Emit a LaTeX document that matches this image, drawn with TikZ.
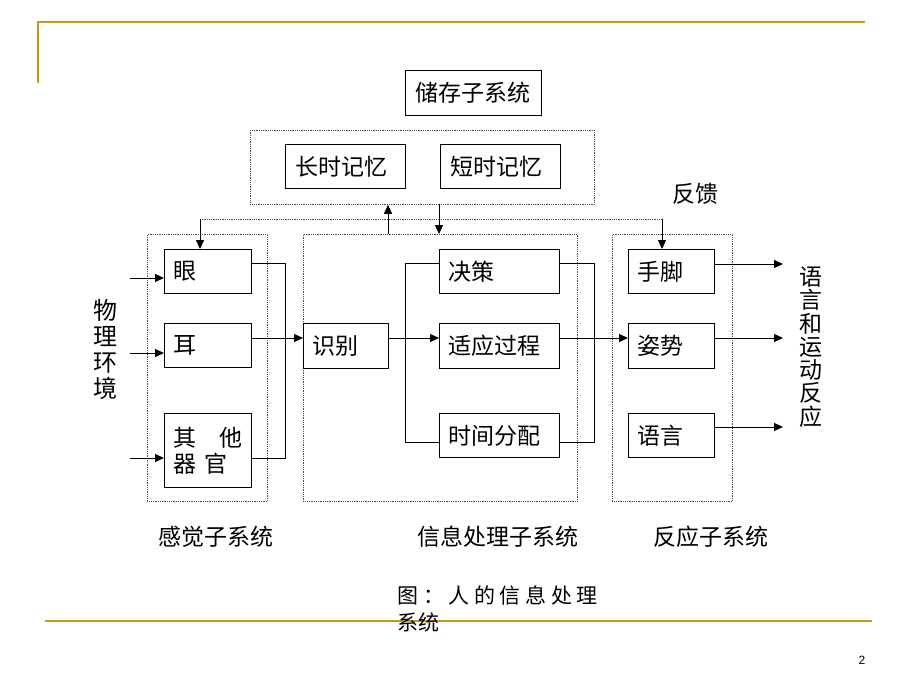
\documentclass[tikz,border=0pt]{standalone}
\usepackage{fontspec}
\setmainfont{Liberation Sans}
\newfontfamily\cjk{Noto Sans CJK SC}
\newfontfamily\cjksp[LetterSpace=22]{Noto Sans CJK SC}
\usetikzlibrary{arrows.meta}
\definecolor{gold}{RGB}{198,152,22}
\begin{document}
\begin{tikzpicture}[x=1pt,y=-1pt,
  font=\cjk\fontsize{23}{26}\selectfont,
  line width=0.9pt,
  arr/.style={-{Triangle[length=9pt,width=8pt]}},
  blk/.style={draw, anchor=north west, minimum height=44pt, inner xsep=9pt, inner ysep=0pt, text width=#1, align=left},
  grp/.style={draw=black!70, line width=0.8pt, densely dotted, anchor=north west, inner sep=0pt},
  lbl/.style={inner sep=0pt},
  rule/.style={draw=gold, line width=2.5pt}
]
\useasboundingbox[fill=white] (0,0) rectangle (920,690);

% decorative gold rules
\coordinate (tl) at (38,22);
\coordinate (tr) at (865,22);
\coordinate (tv) at (38,83);
\coordinate (bl) at (45,621);
\coordinate (br) at (872,621);
\draw[rule] (tv) -- (tl) -- (tr);
\draw[rule] (bl) -- (br);

% storage subsystem
\node[draw, anchor=north west, minimum width=136pt, minimum height=45pt, inner sep=0pt] (store) at (405,70) {储存子系统};
\node[grp, minimum width=344pt, minimum height=74pt] (mem) at (250,130) {};
\node[blk=100pt, inner xsep=10pt] (ltm) at (285,144) {长时记忆};
\node[blk=100pt, inner xsep=10pt] (stm) at (440,144) {短时记忆};

% groups
\node[grp, minimum width=120pt, minimum height=267pt] (sens) at (147,234) {};
\node[grp, minimum width=274pt, minimum height=267pt] (info) at (303,234) {};
\node[grp, minimum width=120pt, minimum height=267pt] (resp) at (612,234) {};

% sensory boxes
\node[blk=69pt] (eye) at (164,249) {眼};
\node[blk=69pt] (ear) at (164,323) {耳};
\node[blk=69pt, minimum height=74pt] (other) at (164,413) {其　他\\器 官};

% info boxes
\node[blk=67pt, minimum height=45pt] (recog) at (303,323) {识别};
\node[blk=102pt] (decide) at (439,249) {决策};
\node[blk=102pt, minimum height=45pt] (adapt) at (439,323) {适应过程};
\node[blk=102pt] (alloc) at (439,413) {时间分配};

% response boxes
\node[blk=68pt] (hand) at (628,249) {手脚};
\node[blk=68pt, minimum height=45pt] (pose) at (628,323) {姿势};
\node[blk=68pt] (speech) at (628,413) {语言};

% labels
\node[lbl, align=center, font=\cjk\fontsize{24}{26}\selectfont] (env) at (105,349) {物\\理\\环\\境};
\node[lbl, align=center, font=\cjk\fontsize{23}{23.3}\selectfont] (out) at (811,347) {语\\言\\和\\运\\动\\反\\应};
\node[lbl] (fb) at (695,194) {反馈};
\node[lbl] (lsens) at (216,537) {感觉子系统};
\node[lbl] (linfo) at (498,537) {信息处理子系统};
\node[lbl] (lresp) at (711,537) {反应子系统};
\node[lbl, anchor=west, font=\cjksp\fontsize{21}{26}\selectfont] (cap1) at (397,595) {图：人的信息处理};
\node[lbl, anchor=west, font=\cjk\fontsize{21}{26}\selectfont] (cap2) at (397,622) {系统};
\node[lbl, font=\fontsize{12}{14}\selectfont] (pg) at (862,660) {2};

% feedback / memory connectors
\coordinate (fbL) at (200,219);
\coordinate (fbR) at (662,219);
\draw[draw=black!70, line width=0.8pt, densely dotted] (fbL) -- (fbR);
\draw[arr] (fbL) -- (fbL |- eye.north);
\draw[arr] (fbR) -- (fbR |- hand.north);
\coordinate (up) at (388,234);
\draw[arr] (up) -- (up |- mem.south);
\coordinate (dn) at (439,204);
\draw[arr] (dn) -- (dn |- info.north);

% environment inputs
\coordinate (i1) at (130,278);
\coordinate (i2) at (130,353);
\coordinate (i3) at (130,458);
\draw[arr] (i1) -- (i1 -| eye.west);
\draw[arr] (i2) -- (i2 -| ear.west);
\draw[arr] (i3) -- (i3 -| other.west);

% sensory to recognition
\coordinate (c1) at (285,263);
\coordinate (c2) at (285,458);
\coordinate (mid) at (0,338);
\draw (c1 -| eye.east) -- (c1) -- (c2) -- (c2 -| other.east);
\draw[arr] (ear.east |- mid) -- (recog.west |- mid);

% info internal
\coordinate (b1) at (405,263);
\coordinate (b2) at (405,442);
\coordinate (b3) at (594,263);
\coordinate (b4) at (594,442);
\draw[arr] (recog.east |- mid) -- (adapt.west |- mid);
\draw (b1 -| decide.west) -- (b1) -- (b2) -- (b2 -| alloc.west);
\draw (b3 -| decide.east) -- (b3) -- (b4) -- (b4 -| alloc.east);
\draw[arr] (adapt.east |- mid) -- (pose.west |- mid);

% outputs
\coordinate (o1) at (783,264);
\coordinate (o2) at (783,338);
\coordinate (o3) at (783,427);
\draw[arr] (o1 -| hand.east) -- (o1);
\draw[arr] (o2 -| pose.east) -- (o2);
\draw[arr] (o3 -| speech.east) -- (o3);
\end{tikzpicture}
\end{document}
